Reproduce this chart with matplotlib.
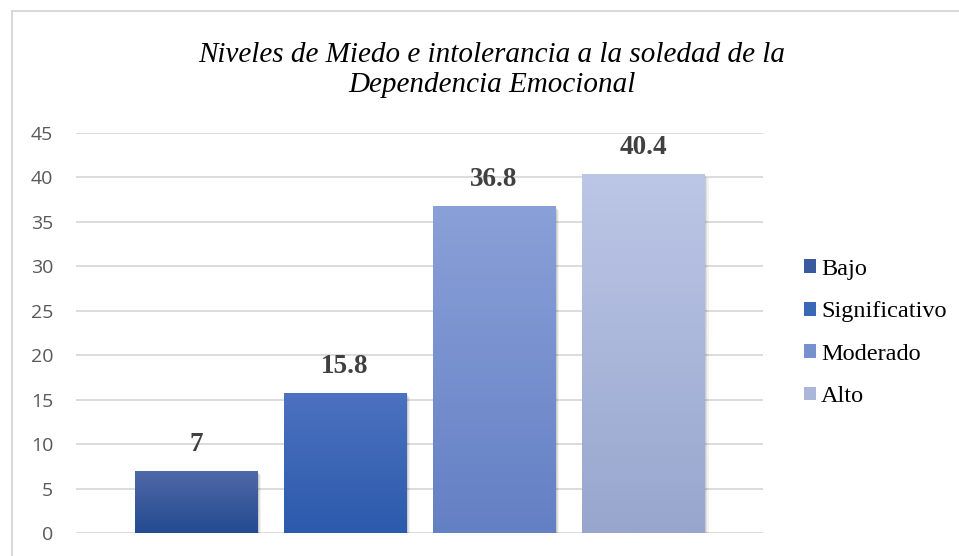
import numpy as np
import matplotlib
matplotlib.use("Agg")
import matplotlib.pyplot as plt
import matplotlib.transforms as mtransforms
from matplotlib.patches import Rectangle, Patch
from matplotlib.colors import LinearSegmentedColormap

# datos
categorias = ["Bajo", "Significativo", "Moderado", "Alto"]
valores = [7, 15.8, 36.8, 40.4]
etiquetas = ["7", "15.8", "36.8", "40.4"]
titulo = "Niveles de Miedo e intolerancia a la soledad de la\nDependencia Emocional"
yticks = [0, 5, 10, 15, 20, 25, 30, 35, 40, 45]

# colores (arriba, abajo) de cada barra
colores_top = ["#5069a8", "#4c72c0", "#8aa0d8", "#bcc6e6"]
colores_bot = ["#244a90", "#2c5aac", "#6480c4", "#98a6ce"]
colores_mid = ["#3a5a9e", "#3c66b6", "#7790ce", "#aab6da"]

fig = plt.figure(figsize=(9.59, 5.56), dpi=100)
fig.patch.set_facecolor("white")

# borde del grafico
fig.patches.append(Rectangle((12 / 959, -0.1), 1.2, 1 - 11 / 556 + 0.1,
                             transform=fig.transFigure, fill=False,
                             edgecolor="#d9d9d9", linewidth=1.5))

ax = fig.add_axes([76 / 959, 23 / 556, 687 / 959, 400 / 556])

x = np.arange(len(categorias))
ancho = 0.819

for spine in ax.spines.values():
    spine.set_visible(False)

ax.set_ylim(0, 45)
ax.set_xlim(-0.805, 3.805)
ax.set_yticks(yticks)
ax.set_xticks([])
ax.grid(axis="y", color="#d9d9d9", linewidth=1.3)
ax.set_axisbelow(True)
ax.tick_params(axis="y", length=0, pad=16.5, labelsize=14, labelcolor="#595959")
for lbl in ax.get_yticklabels():
    lbl.set_fontfamily("Open Sans")

grad = np.linspace(0, 1, 256).reshape(-1, 1)
for i, v in enumerate(valores):
    x0 = x[i] - ancho / 2
    # sombra
    for k, a in [(4, 0.05), (3, 0.07), (2, 0.09), (1, 0.12)]:
        off = mtransforms.offset_copy(ax.transData, fig=fig, x=k * 0.8, y=-k * 0.8, units="points")
        ax.add_patch(Rectangle((x0, 0), ancho, v, facecolor="black", alpha=a,
                               edgecolor="none", transform=off, zorder=2))
    cmap = LinearSegmentedColormap.from_list("g%d" % i, [colores_top[i], colores_bot[i]])
    rect = Rectangle((x0, 0), ancho, v, facecolor="none", edgecolor="none", zorder=3)
    ax.add_patch(rect)
    im = ax.imshow(grad, cmap=cmap, aspect="auto", extent=(x0, x0 + ancho, 0, v),
                   origin="upper", zorder=3)
    im.set_clip_path(rect)
    ax.annotate(etiquetas[i], (x[i], v), xytext=(0, 10), textcoords="offset points",
                ha="center", va="bottom", fontsize=19.5, fontweight="bold",
                color="#404040", family="Liberation Serif")

ax.set_xlim(-0.805, 3.805)
ax.set_ylim(0, 45)

fig.text(492 / 959, 1 - 70 / 556, titulo, ha="center", va="center",
         fontsize=21, style="italic", family="Liberation Serif",
         linespacing=1.2, color="black")

handles = [Patch(facecolor=c, edgecolor="none") for c in colores_mid]
leg = fig.legend(handles, categorias, loc="center left",
                 bbox_to_anchor=(787 / 959, 1 - 333 / 556), frameon=False,
                 prop={"family": "Liberation Serif", "size": 17.5},
                 handlelength=0.5, handleheight=0.5, handletextpad=0.2,
                 labelspacing=0.88, borderpad=0.2)

fig.savefig("out.png", dpi=100)
